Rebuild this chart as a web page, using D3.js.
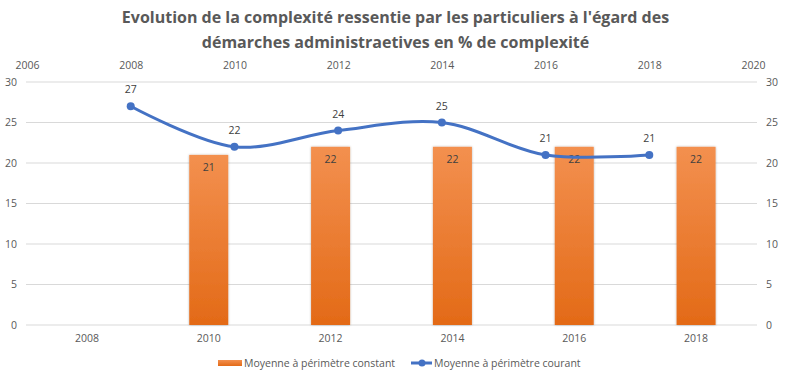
<!DOCTYPE html>
<html>
<head>
<meta charset="utf-8">
<script src="https://cdn.jsdelivr.net/npm/d3@7"></script>
<style>
  body { margin: 0; background: #fff; }
  text { font-family: "Open Sans", "Liberation Sans", sans-serif; }
</style>
</head>
<body>
<script>
var w = 791;
var h = 377;

var barYears = ["2008", "2010", "2012", "2014", "2016", "2018"];
var barValues = [null, 21, 22, 22, 22, 22];
var lineYears = [2008, 2010, 2012, 2014, 2016, 2018];
var lineValues = [27, 22, 24, 25, 21, 21];
var yTicks = [0, 5, 10, 15, 20, 25, 30];
var topTicks = [2006, 2008, 2010, 2012, 2014, 2016, 2018, 2020];

var padL = 26, padR = 757, padT = 82, padB = 325;

var svg = d3.select("body").append("svg").attr("width", w).attr("height", h);

var defs = svg.append("defs");
var grad = defs.append("linearGradient").attr("id", "barGrad")
    .attr("x1", 0).attr("y1", 0).attr("x2", 0).attr("y2", 1);
grad.append("stop").attr("offset", "0%").attr("stop-color", "#F3904F");
grad.append("stop").attr("offset", "100%").attr("stop-color", "#E36A17");
var filt = defs.append("filter").attr("id", "shadow").attr("x", "-20%").attr("width", "140%");
filt.append("feDropShadow").attr("dx", 0).attr("dy", 0).attr("stdDeviation", 1.2)
    .attr("flood-color", "#000").attr("flood-opacity", 0.3);

// title
svg.append("text").attr("x", w / 2).attr("y", 23).attr("text-anchor", "middle")
    .attr("font-size", "16px").attr("font-weight", "bold").attr("fill", "#595959")
    .text("Evolution de la complexité ressentie par les particuliers à l'égard des");
svg.append("text").attr("x", w / 2).attr("y", 48).attr("text-anchor", "middle")
    .attr("font-size", "16px").attr("font-weight", "bold").attr("fill", "#595959")
    .text("démarches administraetives en % de complexité");

var xBand = d3.scaleBand().domain(barYears).range([padL, padR]);
var xTop = d3.scaleLinear().domain([2006, 2020]).range([padL + 1, padR - 4]);
var y = d3.scaleLinear().domain([0, 30]).range([padB, padT]);

// gridlines
svg.append("g").selectAll("line").data(yTicks).enter().append("line")
    .attr("x1", padL).attr("x2", padR)
    .attr("y1", d => y(d)).attr("y2", d => y(d))
    .attr("stroke", "#D9D9D9").attr("stroke-width", 1);

// left / right y axes
var yLeft = d3.axisLeft(y).tickValues(yTicks).tickSize(0).tickPadding(9);
var yRight = d3.axisRight(y).tickValues(yTicks).tickSize(0).tickPadding(9);
var gl = svg.append("g").attr("transform", "translate(" + padL + ",0)").call(yLeft);
var gr = svg.append("g").attr("transform", "translate(" + padR + ",0)").call(yRight);

// bottom axis
var xAxis = d3.axisBottom(xBand).tickSize(0).tickPadding(10);
var gb = svg.append("g").attr("transform", "translate(0," + padB + ")").call(xAxis);

// top axis
var topAxis = d3.axisTop(xTop).tickValues(topTicks).tickFormat(d3.format("d")).tickSize(0).tickPadding(8);
var gt = svg.append("g").attr("transform", "translate(0," + (padT - 5) + ")").call(topAxis);

[gl, gr, gb, gt].forEach(g => {
    g.select(".domain").remove();
    g.selectAll("text").attr("font-size", "10.5px").attr("fill", "#595959")
        .attr("font-family", "'Open Sans', sans-serif");
});

// bars
var barW = 39;
var bars = barYears.map((d, i) => ({ year: d, value: barValues[i] })).filter(d => d.value != null);
svg.append("g").selectAll("rect").data(bars).enter().append("rect")
    .attr("x", d => xBand(d.year) + xBand.bandwidth() / 2 - barW / 2)
    .attr("y", d => y(d.value))
    .attr("width", barW)
    .attr("height", d => y(0) - y(d.value))
    .attr("fill", "url(#barGrad)")
    .attr("filter", "url(#shadow)");
svg.append("g").selectAll("text").data(bars).enter().append("text")
    .attr("x", d => xBand(d.year) + xBand.bandwidth() / 2)
    .attr("y", d => y(d.value) + 16)
    .attr("text-anchor", "middle").attr("font-size", "10.5px").attr("fill", "#404040")
    .text(d => d.value);

// line
var pts = lineYears.map((d, i) => [d, lineValues[i]]);
var line = d3.line().x(d => xTop(d[0])).y(d => y(d[1])).curve(d3.curveCatmullRom.alpha(0.5));
svg.append("path").datum(pts).attr("d", line)
    .attr("fill", "none").attr("stroke", "#4472C4").attr("stroke-width", 3)
    .attr("stroke-linecap", "round");
svg.append("g").selectAll("circle").data(pts).enter().append("circle")
    .attr("cx", d => xTop(d[0])).attr("cy", d => y(d[1])).attr("r", 4)
    .attr("fill", "#4472C4");
svg.append("g").selectAll("text").data(pts).enter().append("text")
    .attr("x", d => xTop(d[0])).attr("y", d => y(d[1]) - 13)
    .attr("text-anchor", "middle").attr("font-size", "10.5px").attr("fill", "#404040")
    .text(d => d[1]);

// legend
var lg = svg.append("g").attr("transform", "translate(0,367)");
lg.append("rect").attr("x", 218).attr("y", -7).attr("width", 24).attr("height", 6)
    .attr("fill", "url(#barGrad)");
lg.append("text").attr("x", 244).attr("y", 0).attr("font-size", "10.5px").attr("fill", "#595959")
    .text("Moyenne à périmètre constant");
lg.append("line").attr("x1", 411).attr("x2", 432).attr("y1", -4).attr("y2", -4)
    .attr("stroke", "#4472C4").attr("stroke-width", 3);
lg.append("circle").attr("cx", 422).attr("cy", -4).attr("r", 3.5).attr("fill", "#4472C4");
lg.append("text").attr("x", 434).attr("y", 0).attr("font-size", "10.5px").attr("fill", "#595959")
    .text("Moyenne à périmètre courant");
</script>
</body>
</html>
